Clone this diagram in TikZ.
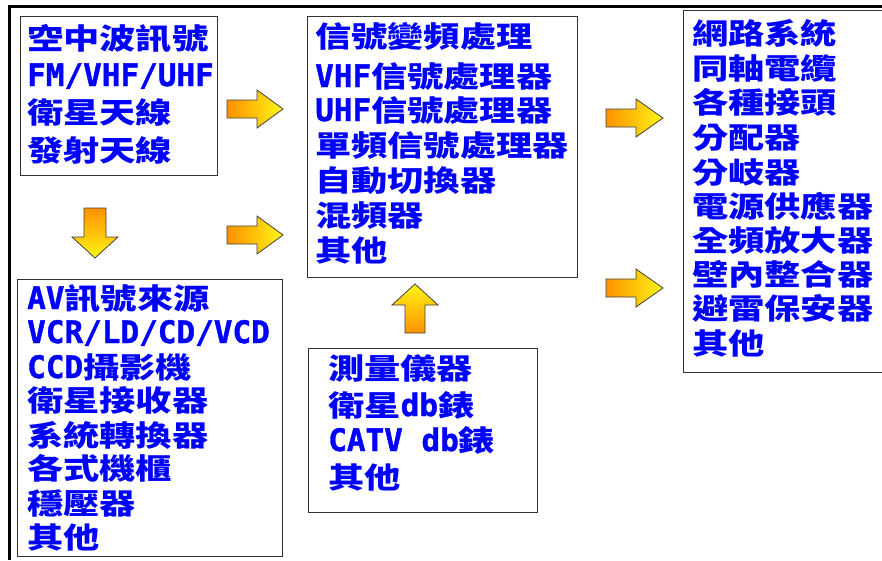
\documentclass[tikz,border=0pt]{standalone}
\usepackage{fontspec}
\setmainfont{Noto Sans CJK TC}[FakeStretch=1.25]
\newfontfamily\latfont{DejaVu Sans Mono}[FakeBold=1.2]
\newcommand{\lat}[1]{{\latfont\fontsize{31}{34}\selectfont\bfseries #1}}
\usepackage{tikz}

\definecolor{arrtail}{RGB}{255,145,0}
\definecolor{arrtip}{RGB}{255,245,20}
\definecolor{txtblue}{RGB}{0,0,255}

\tikzset{
  box/.style={draw=black!80, line width=1.3pt, anchor=north west, inner sep=0pt},
  txt/.style={anchor=base west, inner sep=0pt, text=txtblue, font=\fontsize{29}{34}\selectfont\bfseries},
  blockarr/.style={draw=black!75, line width=0.8pt, line join=miter}
}

\begin{document}
\begin{tikzpicture}[x=1pt, y=-1pt]
        \useasboundingbox (0,0) rectangle (882,560);
        \draw[line width=3pt] (9,560) -- (9,6) -- (882,6);
        % boxes
        \node[box, minimum width=197, minimum height=159] (A) at (20,16) {};
        \node[box, minimum width=270, minimum height=261] (B) at (307,16) {};
        \node[box, minimum width=205, minimum height=362] (C) at (683,10) {};
        \node[box, minimum width=265, minimum height=277] (D) at (17,279) {};
        \node[box, minimum width=229, minimum height=164] (E) at (308,348) {};
        % arrows
        \shade[blockarr, left color=arrtail, right color=arrtip, shift={(227,109)}]
            (0,-9) -- (30,-9) -- (30,-19) -- (56,0) -- (30,19) -- (30,9) -- (0,9) -- cycle;
        \shade[blockarr, left color=arrtail, right color=arrtip, shift={(227,235)}]
            (0,-9) -- (30,-9) -- (30,-19) -- (56,0) -- (30,19) -- (30,9) -- (0,9) -- cycle;
        \shade[blockarr, left color=arrtail, right color=arrtip, shift={(606,118)}]
            (0,-9) -- (30,-9) -- (30,-19) -- (57,0) -- (30,19) -- (30,9) -- (0,9) -- cycle;
        \shade[blockarr, left color=arrtail, right color=arrtip, shift={(606,288)}]
            (0,-9) -- (30,-9) -- (30,-19) -- (57,0) -- (30,19) -- (30,9) -- (0,9) -- cycle;
        \shade[blockarr, top color=arrtip, bottom color=arrtail, shift={(415,333)}]
            (-10,0) -- (-10,-28) -- (-23,-28) -- (0,-49) -- (23,-28) -- (10,-28) -- (10,0) -- cycle;
        \shade[blockarr, top color=arrtail, bottom color=arrtip, shift={(95,208)}]
            (-11,0) -- (-11,29) -- (-23,29) -- (0,50) -- (23,29) -- (11,29) -- (11,0) -- cycle;
        % texts
        \node[txt] (a1) at (27,49) {空中波訊號};
        \node[txt] (a2) at (27,86) {\lat{FM/VHF/UHF}};
        \node[txt] (a3) at (27,123) {衛星天線};
        \node[txt] (a4) at (27,161) {發射天線};
        \node[txt] (b1) at (315,47) {信號變頻處理};
        \node[txt] (b2) at (315,87) {\lat{VHF}信號處理器};
        \node[txt] (b3) at (315,121) {\lat{UHF}信號處理器};
        \node[txt] (b4) at (315,156) {單頻信號處理器};
        \node[txt] (b5) at (315,191) {自動切換器};
        \node[txt] (b6) at (315,226) {混頻器};
        \node[txt] (b7) at (315,261) {其他};
        \node[txt] (c1) at (692,44) {網路系統};
        \node[txt] (c2) at (692,79) {同軸電纜};
        \node[txt] (c3) at (692,113) {各種接頭};
        \node[txt] (c4) at (692,148) {分配器};
        \node[txt] (c5) at (692,183) {分岐器};
        \node[txt] (c6) at (692,217) {電源供應器};
        \node[txt] (c7) at (692,251) {全頻放大器};
        \node[txt] (c8) at (692,285) {壁內整合器};
        \node[txt] (c9) at (692,319) {避雷保安器};
        \node[txt] (c10) at (692,354) {其他};
        \node[txt] (d1) at (27,309) {\lat{AV}訊號來源};
        \node[txt] (d2) at (27,343) {\lat{VCR/LD/CD/VCD}};
        \node[txt] (d3) at (27,378) {\lat{CCD}攝影機};
        \node[txt] (d4) at (27,411) {衛星接收器};
        \node[txt] (d5) at (27,446) {系統轉換器};
        \node[txt] (d6) at (27,479) {各式機櫃};
        \node[txt] (d7) at (27,514) {穩壓器};
        \node[txt] (d8) at (27,548) {其他};
        \node[txt] (e1) at (328,379) {測量儀器};
        \node[txt] (e2) at (328,416) {衛星\lat{db}錶};
        \node[txt] (e3) at (328,451) {\lat{CATV db}錶};
        \node[txt] (e4) at (328,488) {其他};
\end{tikzpicture}
\end{document}
